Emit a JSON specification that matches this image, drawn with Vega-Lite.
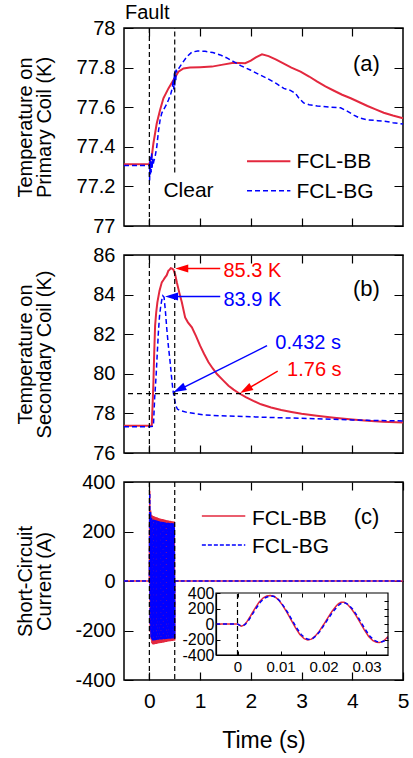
{
"$schema":"https://vega.github.io/schema/vega-lite/v6.json",
"padding":{"left":14,"top":2,"right":4,"bottom":4},
"spacing":29,
"bounds":"flush",
"config":{"font":"Liberation Sans","view":{"stroke":"#000","strokeWidth":1.5},
"axis":{"labelFont":"Liberation Sans","titleFont":"Liberation Sans","labelColor":"#000","titleColor":"#000","titleFontWeight":"normal","labelFlush":false,"labelOverlap":false,"labelBound":false,"domain":false,"ticks":false,"grid":true,"gridColor":"#000","gridOpacity":1,"gridWidth":1.2},
"text":{"font":"Liberation Sans"}},
"datasets":{
"a":[
{"t":-0.5,"v":77.312,"s":"BB"},{"t":-0.25,"v":77.312,"s":"BB"},{"t":0,"v":77.313,"s":"BB"},{"t":0.02,"v":77.335,"s":"BB"},{"t":0.047,"v":77.35,"s":"BB"},{"t":0.08,"v":77.418,"s":"BB"},{"t":0.146,"v":77.519,"s":"BB"},{"t":0.211,"v":77.586,"s":"BB"},{"t":0.277,"v":77.645,"s":"BB"},{"t":0.376,"v":77.695,"s":"BB"},{"t":0.475,"v":77.737,"s":"BB"},{"t":0.573,"v":77.779,"s":"BB"},{"t":0.672,"v":77.796,"s":"BB"},{"t":0.8,"v":77.8,"s":"BB"},{"t":1.0,"v":77.802,"s":"BB"},{"t":1.233,"v":77.805,"s":"BB"},{"t":1.45,"v":77.815,"s":"BB"},{"t":1.66,"v":77.825,"s":"BB"},{"t":1.89,"v":77.822,"s":"BB"},{"t":2.0,"v":77.835,"s":"BB"},{"t":2.1,"v":77.852,"s":"BB"},{"t":2.22,"v":77.867,"s":"BB"},{"t":2.35,"v":77.858,"s":"BB"},{"t":2.5,"v":77.84,"s":"BB"},{"t":2.65,"v":77.82,"s":"BB"},{"t":2.8,"v":77.8,"s":"BB"},{"t":2.98,"v":77.78,"s":"BB"},{"t":3.15,"v":77.755,"s":"BB"},{"t":3.31,"v":77.729,"s":"BB"},{"t":3.47,"v":77.705,"s":"BB"},{"t":3.64,"v":77.683,"s":"BB"},{"t":3.8,"v":77.663,"s":"BB"},{"t":3.97,"v":77.645,"s":"BB"},{"t":4.14,"v":77.625,"s":"BB"},{"t":4.3,"v":77.606,"s":"BB"},{"t":4.46,"v":77.589,"s":"BB"},{"t":4.62,"v":77.572,"s":"BB"},{"t":4.8,"v":77.558,"s":"BB"},{"t":5.0,"v":77.544,"s":"BB"},
{"t":-0.5,"v":77.305,"s":"BG"},{"t":-0.25,"v":77.305,"s":"BG"},{"t":0,"v":77.305,"s":"BG"},{"t":0.005,"v":77.23,"s":"BG"},{"t":0.012,"v":77.33,"s":"BG"},{"t":0.02,"v":77.26,"s":"BG"},{"t":0.028,"v":77.35,"s":"BG"},{"t":0.036,"v":77.27,"s":"BG"},{"t":0.045,"v":77.37,"s":"BG"},{"t":0.054,"v":77.29,"s":"BG"},{"t":0.063,"v":77.34,"s":"BG"},{"t":0.075,"v":77.31,"s":"BG"},{"t":0.09,"v":77.33,"s":"BG"},{"t":0.11,"v":77.345,"s":"BG"},{"t":0.146,"v":77.4,"s":"BG"},{"t":0.18,"v":77.48,"s":"BG"},{"t":0.211,"v":77.535,"s":"BG"},{"t":0.245,"v":77.57,"s":"BG"},{"t":0.277,"v":77.586,"s":"BG"},{"t":0.33,"v":77.61,"s":"BG"},{"t":0.376,"v":77.636,"s":"BG"},{"t":0.42,"v":77.665,"s":"BG"},{"t":0.455,"v":77.7,"s":"BG"},{"t":0.47,"v":77.74,"s":"BG"},{"t":0.48,"v":77.69,"s":"BG"},{"t":0.49,"v":77.77,"s":"BG"},{"t":0.5,"v":77.71,"s":"BG"},{"t":0.51,"v":77.785,"s":"BG"},{"t":0.52,"v":77.73,"s":"BG"},{"t":0.53,"v":77.79,"s":"BG"},{"t":0.541,"v":77.78,"s":"BG"},{"t":0.59,"v":77.8,"s":"BG"},{"t":0.64,"v":77.82,"s":"BG"},{"t":0.74,"v":77.855,"s":"BG"},{"t":0.838,"v":77.878,"s":"BG"},{"t":0.95,"v":77.884,"s":"BG"},{"t":1.1,"v":77.882,"s":"BG"},{"t":1.25,"v":77.876,"s":"BG"},{"t":1.397,"v":77.864,"s":"BG"},{"t":1.52,"v":77.85,"s":"BG"},{"t":1.66,"v":77.83,"s":"BG"},{"t":1.8,"v":77.81,"s":"BG"},{"t":1.99,"v":77.788,"s":"BG"},{"t":2.15,"v":77.767,"s":"BG"},{"t":2.32,"v":77.746,"s":"BG"},{"t":2.5,"v":77.72,"s":"BG"},{"t":2.65,"v":77.695,"s":"BG"},{"t":2.78,"v":77.685,"s":"BG"},{"t":2.88,"v":77.67,"s":"BG"},{"t":2.95,"v":77.645,"s":"BG"},{"t":3.04,"v":77.622,"s":"BG"},{"t":3.15,"v":77.612,"s":"BG"},{"t":3.31,"v":77.606,"s":"BG"},{"t":3.57,"v":77.6,"s":"BG"},{"t":3.77,"v":77.597,"s":"BG"},{"t":3.9,"v":77.58,"s":"BG"},{"t":4.03,"v":77.56,"s":"BG"},{"t":4.15,"v":77.545,"s":"BG"},{"t":4.3,"v":77.536,"s":"BG"},{"t":4.5,"v":77.532,"s":"BG"},{"t":4.62,"v":77.53,"s":"BG"},{"t":4.8,"v":77.522,"s":"BG"},{"t":5.0,"v":77.515,"s":"BG"}
],
"b":[
{"t":-0.5,"v":77.38,"s":"BB"},{"t":0,"v":77.38,"s":"BB"},{"t":0.047,"v":77.38,"s":"BB"},{"t":0.065,"v":78.5,"s":"BB"},{"t":0.08,"v":79.57,"s":"BB"},{"t":0.095,"v":81.0,"s":"BB"},{"t":0.113,"v":82.43,"s":"BB"},{"t":0.135,"v":83.1,"s":"BB"},{"t":0.158,"v":83.61,"s":"BB"},{"t":0.2,"v":84.2,"s":"BB"},{"t":0.245,"v":84.62,"s":"BB"},{"t":0.28,"v":84.75,"s":"BB"},{"t":0.31,"v":84.87,"s":"BB"},{"t":0.34,"v":84.97,"s":"BB"},{"t":0.376,"v":85.21,"s":"BB"},{"t":0.4,"v":85.26,"s":"BB"},{"t":0.423,"v":85.33,"s":"BB"},{"t":0.45,"v":85.31,"s":"BB"},{"t":0.475,"v":85.26,"s":"BB"},{"t":0.51,"v":85.0,"s":"BB"},{"t":0.541,"v":84.62,"s":"BB"},{"t":0.59,"v":84.1,"s":"BB"},{"t":0.64,"v":83.61,"s":"BB"},{"t":0.705,"v":82.85,"s":"BB"},{"t":0.76,"v":82.6,"s":"BB"},{"t":0.838,"v":82.35,"s":"BB"},{"t":0.92,"v":81.9,"s":"BB"},{"t":1.0,"v":81.42,"s":"BB"},{"t":1.08,"v":81.0,"s":"BB"},{"t":1.166,"v":80.58,"s":"BB"},{"t":1.25,"v":80.27,"s":"BB"},{"t":1.332,"v":79.99,"s":"BB"},{"t":1.45,"v":79.68,"s":"BB"},{"t":1.56,"v":79.4,"s":"BB"},{"t":1.66,"v":79.2,"s":"BB"},{"t":1.76,"v":79.03,"s":"BB"},{"t":1.9,"v":78.82,"s":"BB"},{"t":2.05,"v":78.63,"s":"BB"},{"t":2.2,"v":78.46,"s":"BB"},{"t":2.4,"v":78.3,"s":"BB"},{"t":2.6,"v":78.17,"s":"BB"},{"t":2.8,"v":78.07,"s":"BB"},{"t":3.0,"v":77.98,"s":"BB"},{"t":3.3,"v":77.88,"s":"BB"},{"t":3.64,"v":77.78,"s":"BB"},{"t":4.0,"v":77.69,"s":"BB"},{"t":4.3,"v":77.63,"s":"BB"},{"t":4.6,"v":77.58,"s":"BB"},{"t":5.0,"v":77.54,"s":"BB"},
{"t":-0.5,"v":77.33,"s":"BG"},{"t":0,"v":77.33,"s":"BG"},{"t":0.08,"v":77.36,"s":"BG"},{"t":0.105,"v":78.8,"s":"BG"},{"t":0.133,"v":79.9,"s":"BG"},{"t":0.155,"v":81.0,"s":"BG"},{"t":0.178,"v":82.1,"s":"BG"},{"t":0.2,"v":82.9,"s":"BG"},{"t":0.225,"v":83.44,"s":"BG"},{"t":0.25,"v":83.8,"s":"BG"},{"t":0.265,"v":83.94,"s":"BG"},{"t":0.29,"v":83.86,"s":"BG"},{"t":0.315,"v":83.2,"s":"BG"},{"t":0.344,"v":82.26,"s":"BG"},{"t":0.375,"v":81.4,"s":"BG"},{"t":0.41,"v":80.58,"s":"BG"},{"t":0.435,"v":79.9,"s":"BG"},{"t":0.462,"v":79.23,"s":"BG"},{"t":0.485,"v":78.85,"s":"BG"},{"t":0.508,"v":78.56,"s":"BG"},{"t":0.53,"v":78.35,"s":"BG"},{"t":0.553,"v":78.22,"s":"BG"},{"t":0.6,"v":78.15,"s":"BG"},{"t":0.74,"v":78.05,"s":"BG"},{"t":1.07,"v":77.93,"s":"BG"},{"t":1.4,"v":77.88,"s":"BG"},{"t":2.0,"v":77.83,"s":"BG"},{"t":2.32,"v":77.8,"s":"BG"},{"t":3.0,"v":77.75,"s":"BG"},{"t":3.64,"v":77.7,"s":"BG"},{"t":4.0,"v":77.67,"s":"BG"},{"t":4.3,"v":77.65,"s":"BG"},{"t":5.0,"v":77.62,"s":"BG"}
],
"c":[
{"t":-0.5,"v":0,"s":"BB"},{"t":0,"v":0,"s":"BB"},
{"t":0.0078,"v":365,"s":"BB"},{"t":0.0163,"v":-206,"s":"BB"},{"t":0.0245,"v":285,"s":"BB"},{"t":0.033,"v":-236,"s":"BB"},{"t":0.0411,"v":268,"s":"BB"},{"t":0.0496,"v":-252,"s":"BB"},{"t":0.0578,"v":265,"s":"BB"},{"t":0.0663,"v":-256,"s":"BB"},{"t":0.0745,"v":263,"s":"BB"},{"t":0.083,"v":-257,"s":"BB"},{"t":0.0911,"v":262,"s":"BB"},{"t":0.0996,"v":-256,"s":"BB"},{"t":0.1078,"v":260,"s":"BB"},{"t":0.1163,"v":-255,"s":"BB"},{"t":0.1245,"v":259,"s":"BB"},{"t":0.133,"v":-255,"s":"BB"},{"t":0.1411,"v":258,"s":"BB"},{"t":0.1496,"v":-254,"s":"BB"},{"t":0.1578,"v":257,"s":"BB"},{"t":0.1663,"v":-253,"s":"BB"},{"t":0.1745,"v":255,"s":"BB"},{"t":0.183,"v":-252,"s":"BB"},{"t":0.1911,"v":254,"s":"BB"},{"t":0.1996,"v":-252,"s":"BB"},{"t":0.2078,"v":253,"s":"BB"},{"t":0.2163,"v":-251,"s":"BB"},{"t":0.2245,"v":252,"s":"BB"},{"t":0.233,"v":-250,"s":"BB"},{"t":0.2411,"v":251,"s":"BB"},{"t":0.2496,"v":-249,"s":"BB"},{"t":0.2578,"v":250,"s":"BB"},{"t":0.2663,"v":-249,"s":"BB"},{"t":0.2745,"v":249,"s":"BB"},{"t":0.283,"v":-248,"s":"BB"},{"t":0.2911,"v":248,"s":"BB"},{"t":0.2996,"v":-247,"s":"BB"},{"t":0.3078,"v":247,"s":"BB"},{"t":0.3163,"v":-246,"s":"BB"},{"t":0.3245,"v":246,"s":"BB"},{"t":0.333,"v":-246,"s":"BB"},{"t":0.3411,"v":245,"s":"BB"},{"t":0.3496,"v":-245,"s":"BB"},{"t":0.3578,"v":245,"s":"BB"},{"t":0.3663,"v":-244,"s":"BB"},{"t":0.3745,"v":244,"s":"BB"},{"t":0.383,"v":-244,"s":"BB"},{"t":0.3911,"v":243,"s":"BB"},{"t":0.3996,"v":-243,"s":"BB"},{"t":0.4078,"v":243,"s":"BB"},{"t":0.4163,"v":-243,"s":"BB"},{"t":0.4245,"v":242,"s":"BB"},{"t":0.433,"v":-242,"s":"BB"},{"t":0.4411,"v":241,"s":"BB"},{"t":0.4496,"v":-242,"s":"BB"},{"t":0.4578,"v":241,"s":"BB"},{"t":0.4663,"v":-241,"s":"BB"},{"t":0.4745,"v":240,"s":"BB"},{"t":0.483,"v":-241,"s":"BB"},{"t":0.4911,"v":240,"s":"BB"},{"t":0.4996,"v":-240,"s":"BB"},
{"t":0.5005,"v":0,"s":"BB"},{"t":5,"v":0,"s":"BB"},
{"t":-0.5,"v":0,"s":"BG"},{"t":0,"v":0,"s":"BG"},
{"t":0.0078,"v":355,"s":"BG"},{"t":0.0163,"v":-202,"s":"BG"},{"t":0.0245,"v":278,"s":"BG"},{"t":0.033,"v":-228,"s":"BG"},{"t":0.0411,"v":255,"s":"BG"},{"t":0.0496,"v":-238,"s":"BG"},{"t":0.0578,"v":250,"s":"BG"},{"t":0.0663,"v":-240,"s":"BG"},{"t":0.0745,"v":248,"s":"BG"},{"t":0.083,"v":-240,"s":"BG"},{"t":0.0911,"v":247,"s":"BG"},{"t":0.0996,"v":-239,"s":"BG"},{"t":0.1078,"v":246,"s":"BG"},{"t":0.1163,"v":-239,"s":"BG"},{"t":0.1245,"v":245,"s":"BG"},{"t":0.133,"v":-238,"s":"BG"},{"t":0.1411,"v":244,"s":"BG"},{"t":0.1496,"v":-238,"s":"BG"},{"t":0.1578,"v":243,"s":"BG"},{"t":0.1663,"v":-238,"s":"BG"},{"t":0.1745,"v":242,"s":"BG"},{"t":0.183,"v":-237,"s":"BG"},{"t":0.1911,"v":241,"s":"BG"},{"t":0.1996,"v":-237,"s":"BG"},{"t":0.2078,"v":240,"s":"BG"},{"t":0.2163,"v":-236,"s":"BG"},{"t":0.2245,"v":240,"s":"BG"},{"t":0.233,"v":-236,"s":"BG"},{"t":0.2411,"v":239,"s":"BG"},{"t":0.2496,"v":-236,"s":"BG"},{"t":0.2578,"v":238,"s":"BG"},{"t":0.2663,"v":-235,"s":"BG"},{"t":0.2745,"v":238,"s":"BG"},{"t":0.283,"v":-235,"s":"BG"},{"t":0.2911,"v":237,"s":"BG"},{"t":0.2996,"v":-235,"s":"BG"},{"t":0.3078,"v":237,"s":"BG"},{"t":0.3163,"v":-234,"s":"BG"},{"t":0.3245,"v":236,"s":"BG"},{"t":0.333,"v":-234,"s":"BG"},{"t":0.3411,"v":236,"s":"BG"},{"t":0.3496,"v":-234,"s":"BG"},{"t":0.3578,"v":235,"s":"BG"},{"t":0.3663,"v":-233,"s":"BG"},{"t":0.3745,"v":235,"s":"BG"},{"t":0.383,"v":-233,"s":"BG"},{"t":0.3911,"v":235,"s":"BG"},{"t":0.3996,"v":-233,"s":"BG"},{"t":0.4078,"v":234,"s":"BG"},{"t":0.4163,"v":-233,"s":"BG"},{"t":0.4245,"v":234,"s":"BG"},{"t":0.433,"v":-232,"s":"BG"},{"t":0.4411,"v":234,"s":"BG"},{"t":0.4496,"v":-232,"s":"BG"},{"t":0.4578,"v":233,"s":"BG"},{"t":0.4663,"v":-232,"s":"BG"},{"t":0.4745,"v":233,"s":"BG"},{"t":0.483,"v":-232,"s":"BG"},{"t":0.4911,"v":233,"s":"BG"},{"t":0.4996,"v":-231,"s":"BG"},
{"t":0.5005,"v":0,"s":"BG"},{"t":5,"v":0,"s":"BG"}
],
"ci":[
{"t":-0.005,"v":0,"s":"BB"},{"t":0,"v":0,"s":"BB"},{"t":0.0004,"v":-15,"s":"BB"},{"t":0.0009,"v":-28,"s":"BB"},{"t":0.0015,"v":-15,"s":"BB"},{"t":0.0022,"v":30,"s":"BB"},{"t":0.003,"v":100,"s":"BB"},{"t":0.004,"v":195,"s":"BB"},{"t":0.005,"v":280,"s":"BB"},{"t":0.006,"v":338,"s":"BB"},{"t":0.0068,"v":362,"s":"BB"},{"t":0.0076,"v":368,"s":"BB"},{"t":0.0085,"v":358,"s":"BB"},{"t":0.0095,"v":315,"s":"BB"},{"t":0.0105,"v":240,"s":"BB"},{"t":0.0115,"v":150,"s":"BB"},{"t":0.0125,"v":50,"s":"BB"},{"t":0.0135,"v":-50,"s":"BB"},{"t":0.0145,"v":-135,"s":"BB"},{"t":0.0155,"v":-190,"s":"BB"},{"t":0.0163,"v":-206,"s":"BB"},{"t":0.0172,"v":-195,"s":"BB"},{"t":0.018,"v":-160,"s":"BB"},{"t":0.019,"v":-95,"s":"BB"},{"t":0.02,"v":-10,"s":"BB"},{"t":0.021,"v":80,"s":"BB"},{"t":0.022,"v":165,"s":"BB"},{"t":0.023,"v":235,"s":"BB"},{"t":0.0235,"v":262,"s":"BB"},{"t":0.0241,"v":280,"s":"BB"},{"t":0.0248,"v":280,"s":"BB"},{"t":0.0255,"v":257,"s":"BB"},{"t":0.0265,"v":197,"s":"BB"},{"t":0.0275,"v":115,"s":"BB"},{"t":0.0285,"v":20,"s":"BB"},{"t":0.0295,"v":-75,"s":"BB"},{"t":0.0305,"v":-160,"s":"BB"},{"t":0.0315,"v":-215,"s":"BB"},{"t":0.0323,"v":-236,"s":"BB"},{"t":0.033,"v":-240,"s":"BB"},{"t":0.0338,"v":-225,"s":"BB"},{"t":0.0345,"v":-190,"s":"BB"},{"t":0.035,"v":-160,"s":"BB"},
{"t":-0.005,"v":0,"s":"BG"},{"t":0,"v":0,"s":"BG"},{"t":0.0007,"v":-20,"s":"BG"},{"t":0.0012,"v":-25,"s":"BG"},{"t":0.0018,"v":-5,"s":"BG"},{"t":0.0025,"v":40,"s":"BG"},{"t":0.0033,"v":110,"s":"BG"},{"t":0.0043,"v":200,"s":"BG"},{"t":0.0053,"v":280,"s":"BG"},{"t":0.0063,"v":335,"s":"BG"},{"t":0.0073,"v":358,"s":"BG"},{"t":0.0081,"v":360,"s":"BG"},{"t":0.0088,"v":348,"s":"BG"},{"t":0.0098,"v":300,"s":"BG"},{"t":0.0108,"v":225,"s":"BG"},{"t":0.0118,"v":138,"s":"BG"},{"t":0.0128,"v":40,"s":"BG"},{"t":0.0138,"v":-55,"s":"BG"},{"t":0.0148,"v":-135,"s":"BG"},{"t":0.0158,"v":-185,"s":"BG"},{"t":0.0166,"v":-200,"s":"BG"},{"t":0.0175,"v":-188,"s":"BG"},{"t":0.0183,"v":-150,"s":"BG"},{"t":0.0193,"v":-85,"s":"BG"},{"t":0.0203,"v":0,"s":"BG"},{"t":0.0213,"v":85,"s":"BG"},{"t":0.0223,"v":165,"s":"BG"},{"t":0.0233,"v":230,"s":"BG"},{"t":0.0238,"v":255,"s":"BG"},{"t":0.0244,"v":272,"s":"BG"},{"t":0.0251,"v":272,"s":"BG"},{"t":0.0258,"v":250,"s":"BG"},{"t":0.0268,"v":190,"s":"BG"},{"t":0.0278,"v":110,"s":"BG"},{"t":0.0288,"v":15,"s":"BG"},{"t":0.0298,"v":-78,"s":"BG"},{"t":0.0308,"v":-158,"s":"BG"},{"t":0.0318,"v":-210,"s":"BG"},{"t":0.0326,"v":-230,"s":"BG"},{"t":0.0333,"v":-234,"s":"BG"},{"t":0.0341,"v":-220,"s":"BG"},{"t":0.0348,"v":-188,"s":"BG"},{"t":0.035,"v":-178,"s":"BG"}
]
},
"vconcat":[
{"width":279,"height":198,"resolve":{"axis":{"y":"independent"}},"layer":[
{"data":{"name":"a"},"transform":[{"filter":"datum.s=='BB'"}],"mark":{"type":"line","color":"#E3283E","strokeWidth":2},
"encoding":{"x":{"field":"t","type":"quantitative","scale":{"domain":[-0.5,5],"nice":false,"zero":false},"axis":{"orient":"bottom","values":[0,0.5,1,1.5,2,2.5,3,3.5,4,4.5],"labels":false,"labelOverlap":false,"title":null,"gridDash":{"condition":{"test":"datum.value % 1 == 0","value":[8,182,8,400]},"value":[5,188,5,400]}}},
"y":{"field":"v","type":"quantitative","scale":{"domain":[77,78],"nice":false,"zero":false},"axis":{"orient":"left","values":[77,77.2,77.4,77.6,77.8,78],"labelExpr":"'' + datum.value","labelOverlap":false,"labelFontSize":20,"labelPadding":9,"title":["Temperature on","Primary Coil (K)"],"titleFontSize":20,"titleLineHeight":19,"titleX":-89,"titleY":99,"titleAngle":270,"titleAlign":"center","titleBaseline":"bottom","gridDash":[9,261,9,400]}}}},
{"data":{"name":"a"},"transform":[{"filter":"datum.s=='BG'"}],"mark":{"type":"line","color":"#0000FF","strokeWidth":1.5,"strokeDash":[5,3]},"encoding":{"x":{"field":"t","type":"quantitative"},"y":{"field":"v","type":"quantitative","axis":{"orient":"right","values":[77.1,77.3,77.5,77.7,77.9],"labels":false,"title":null,"gridDash":[5,269,5,400]}}}},
{"data":{"values":[{}]},"mark":{"type":"rule","color":"#000","strokeWidth":1.2,"strokeDash":[5,3]},"encoding":{"x":{"datum":0}}},
{"data":{"values":[{}]},"mark":{"type":"rule","color":"#000","strokeWidth":1.2,"strokeDash":[5,3]},"encoding":{"x":{"datum":0.5},"y":{"datum":77.27,"axis":null},"y2":{"datum":78}}},
{"data":{"values":[{}]},"mark":{"type":"text","text":"Fault","align":"left","baseline":"alphabetic","fontSize":20,"color":"#000"},"encoding":{"x":{"datum":-0.48},"y":{"datum":78.045,"axis":null}}},
{"data":{"values":[{}]},"mark":{"type":"text","text":"Clear","align":"left","baseline":"alphabetic","fontSize":21,"color":"#000"},"encoding":{"x":{"datum":0.277},"y":{"datum":77.148,"axis":null}}},
{"data":{"values":[{}]},"mark":{"type":"text","text":"(a)","align":"center","baseline":"alphabetic","fontSize":22,"color":"#000"},"encoding":{"x":{"datum":4.28},"y":{"datum":77.785,"axis":null}}},
{"data":{"values":[{}]},"mark":{"type":"rule","color":"#E3283E","strokeWidth":2},"encoding":{"x":{"datum":1.925},"x2":{"datum":2.78},"y":{"datum":77.3265,"axis":null}}},
{"data":{"values":[{}]},"mark":{"type":"rule","color":"#0000FF","strokeWidth":1.5,"strokeDash":[5,3]},"encoding":{"x":{"datum":1.925},"x2":{"datum":2.78},"y":{"datum":77.178,"axis":null}}},
{"data":{"values":[{}]},"mark":{"type":"text","text":"FCL-BB","align":"left","baseline":"alphabetic","fontSize":21,"color":"#000"},"encoding":{"x":{"datum":2.9},"y":{"datum":77.291,"axis":null}}},
{"data":{"values":[{}]},"mark":{"type":"text","text":"FCL-BG","align":"left","baseline":"alphabetic","fontSize":21,"color":"#000"},"encoding":{"x":{"datum":2.9},"y":{"datum":77.14,"axis":null}}}
]},
{"width":279,"height":198,"resolve":{"axis":{"y":"independent"}},"layer":[
{"data":{"name":"b"},"transform":[{"filter":"datum.s=='BB'"}],"mark":{"type":"line","color":"#E3283E","strokeWidth":2},
"encoding":{"x":{"field":"t","type":"quantitative","scale":{"domain":[-0.5,5],"nice":false,"zero":false},"axis":{"orient":"bottom","values":[0,0.5,1,1.5,2,2.5,3,3.5,4,4.5],"labels":false,"labelOverlap":false,"title":null,"gridDash":{"condition":{"test":"datum.value % 1 == 0","value":[8,182,8,400]},"value":[5,188,5,400]}}},
"y":{"field":"v","type":"quantitative","scale":{"domain":[76,86],"nice":false,"zero":false},"axis":{"orient":"left","values":[76,78,80,82,84,86],"labelExpr":"'' + datum.value","labelOverlap":false,"labelFontSize":20,"labelPadding":9,"title":["Temperature on","Secondary Coil (K)"],"titleFontSize":20,"titleLineHeight":19,"titleX":-89,"titleY":99,"titleAngle":270,"titleAlign":"center","titleBaseline":"bottom","gridDash":[9,261,9,400]}}}},
{"data":{"name":"b"},"transform":[{"filter":"datum.s=='BG'"}],"mark":{"type":"line","color":"#0000FF","strokeWidth":1.5,"strokeDash":[5,3]},"encoding":{"x":{"field":"t","type":"quantitative"},"y":{"field":"v","type":"quantitative","axis":{"orient":"right","values":[77,79,81,83,85],"labels":false,"title":null,"gridDash":[5,269,5,400]}}}},
{"data":{"values":[{}]},"mark":{"type":"rule","color":"#000","strokeWidth":1.2,"strokeDash":[5,3]},"encoding":{"x":{"datum":0}}},
{"data":{"values":[{}]},"mark":{"type":"rule","color":"#000","strokeWidth":1.2,"strokeDash":[5,3]},"encoding":{"x":{"datum":0.5}}},
{"data":{"values":[{}]},"mark":{"type":"rule","color":"#000","strokeWidth":1.2,"strokeDash":[5,4]},"encoding":{"y":{"datum":79,"axis":null}}},
{"data":{"values":[{}]},"mark":{"type":"text","text":"(b)","align":"center","baseline":"alphabetic","fontSize":22,"color":"#000"},"encoding":{"x":{"datum":4.28},"y":{"datum":83.93,"axis":null}}},
{"data":{"values":[{}]},"mark":{"type":"rule","color":"#FF0000","strokeWidth":1.5},"encoding":{"x":{"datum":0.6},"x2":{"datum":1.397},"y":{"datum":85.32,"axis":null}}},
{"data":{"values":[{}]},"mark":{"type":"point","shape":"M0,0L2,-0.62L2,0.62Z","size":169,"filled":true,"opacity":1,"color":"#FF0000"},"encoding":{"x":{"datum":0.51},"y":{"datum":85.32,"axis":null}}},
{"data":{"values":[{}]},"mark":{"type":"rule","color":"#0000FF","strokeWidth":1.5},"encoding":{"x":{"datum":0.4},"x2":{"datum":1.397},"y":{"datum":83.9,"axis":null}}},
{"data":{"values":[{}]},"mark":{"type":"point","shape":"M0,0L2,-0.62L2,0.62Z","size":169,"filled":true,"opacity":1,"color":"#0000FF"},"encoding":{"x":{"datum":0.31},"y":{"datum":83.9,"axis":null}}},
{"data":{"values":[{}]},"mark":{"type":"rule","color":"#0000FF","strokeWidth":1.5},"encoding":{"x":{"datum":2.32},"x2":{"datum":0.55},"y":{"datum":81.42,"axis":null},"y2":{"datum":79.15}}},
{"data":{"values":[{}]},"mark":{"type":"point","shape":"M0,0L2,-0.62L2,0.62Z","size":169,"filled":true,"opacity":1,"color":"#0000FF","angle":333.5},"encoding":{"x":{"datum":0.475},"y":{"datum":79.07,"axis":null}}},
{"data":{"values":[{}]},"mark":{"type":"rule","color":"#FF0000","strokeWidth":1.5},"encoding":{"x":{"datum":2.53},"x2":{"datum":1.86},"y":{"datum":80.13,"axis":null},"y2":{"datum":79.13}}},
{"data":{"values":[{}]},"mark":{"type":"point","shape":"M0,0L2,-0.62L2,0.62Z","size":169,"filled":true,"opacity":1,"color":"#FF0000","angle":329.8},"encoding":{"x":{"datum":1.79},"y":{"datum":79.03,"axis":null}}},
{"data":{"values":[{}]},"mark":{"type":"text","text":"85.3 K","align":"left","baseline":"alphabetic","fontSize":20,"color":"#FF0000"},"encoding":{"x":{"datum":1.46},"y":{"datum":84.87,"axis":null}}},
{"data":{"values":[{}]},"mark":{"type":"text","text":"83.9 K","align":"left","baseline":"alphabetic","fontSize":20,"color":"#0000FF"},"encoding":{"x":{"datum":1.46},"y":{"datum":83.44,"axis":null}}},
{"data":{"values":[{}]},"mark":{"type":"text","text":"0.432 s","align":"left","baseline":"alphabetic","fontSize":20,"color":"#0000FF"},"encoding":{"x":{"datum":2.484},"y":{"datum":81.25,"axis":null}}},
{"data":{"values":[{}]},"mark":{"type":"text","text":"1.76 s","align":"left","baseline":"alphabetic","fontSize":20,"color":"#FF0000"},"encoding":{"x":{"datum":2.715},"y":{"datum":79.87,"axis":null}}}
]},
{"width":279,"height":198,
"resolve":{"scale":{"x":"independent","y":"independent"},"axis":{"x":"independent","y":"independent"}},
"layer":[
{"layer":[
{"data":{"name":"c"},"transform":[{"filter":"datum.s=='BB'"}],"mark":{"type":"line","color":"#E3283E","strokeWidth":1.5},
"encoding":{"x":{"field":"t","type":"quantitative","scale":{"domain":[-0.5,5],"nice":false,"zero":false},"axis":{"orient":"bottom","values":[0,0.5,1,1.5,2,2.5,3,3.5,4,4.5,5],"labelExpr":"datum.value % 1 == 0 ? '' + datum.value : ''","labelOverlap":false,"labelFontSize":21,"labelPadding":10,"title":"Time (s)","titleFontSize":23,"titlePadding":18,"gridDash":{"condition":{"test":"datum.value % 1 == 0","value":[8,182,8,400]},"value":[5,188,5,400]}}},
"y":{"field":"v","type":"quantitative","scale":{"domain":[-400,400],"nice":false,"zero":false},"axis":{"orient":"left","values":[-400,-300,-200,-100,0,100,200,300,400],"labelExpr":"datum.value % 200 == 0 ? '' + datum.value : ''","labelOverlap":false,"labelFontSize":20,"labelPadding":9,"title":["Short-Circuit","Current (A)"],"titleFontSize":20,"titleLineHeight":19,"titleX":-89,"titleY":99,"titleAngle":270,"titleAlign":"center","titleBaseline":"bottom","gridDash":{"condition":{"test":"datum.value % 200 == 0","value":[9,261,9,400]},"value":[5,269,5,400]}}}}},
{"data":{"name":"c"},"transform":[{"filter":"datum.s=='BG'"}],"mark":{"type":"line","color":"#0000FF","strokeWidth":1.5,"strokeDash":[4,2]},"encoding":{"x":{"field":"t","type":"quantitative"},"y":{"field":"v","type":"quantitative"}}},
{"data":{"values":[{}]},"mark":{"type":"rule","color":"#000","strokeWidth":1.2,"strokeDash":[5,3]},"encoding":{"x":{"datum":0}}},
{"data":{"values":[{}]},"mark":{"type":"rule","color":"#000","strokeWidth":1.2,"strokeDash":[5,3]},"encoding":{"x":{"datum":0.5}}},
{"data":{"values":[{}]},"mark":{"type":"text","text":"(c)","align":"center","baseline":"alphabetic","fontSize":22,"color":"#000"},"encoding":{"x":{"datum":4.28},"y":{"datum":230}}},
{"data":{"values":[{}]},"mark":{"type":"rule","color":"#E3283E","strokeWidth":1.5},"encoding":{"x":{"datum":1.035},"x2":{"datum":1.891},"y":{"datum":262.6}}},
{"data":{"values":[{}]},"mark":{"type":"rule","color":"#0000FF","strokeWidth":1.5,"strokeDash":[4,2]},"encoding":{"x":{"datum":1.035},"x2":{"datum":1.891},"y":{"datum":145.5}}},
{"data":{"values":[{}]},"mark":{"type":"text","text":"FCL-BB","align":"left","baseline":"alphabetic","fontSize":21,"color":"#000"},"encoding":{"x":{"datum":2.024},"y":{"datum":226.3}}},
{"data":{"values":[{}]},"mark":{"type":"text","text":"FCL-BG","align":"left","baseline":"alphabetic","fontSize":21,"color":"#000"},"encoding":{"x":{"datum":2.024},"y":{"datum":112}}}
]},
{"resolve":{"axis":{"x":"independent","y":"independent"}},"layer":[
{"data":{"name":"ci"},"transform":[{"filter":"datum.s=='BB'"}],"mark":{"type":"line","color":"#E3283E","strokeWidth":1.5},
"encoding":{"x":{"field":"t","type":"quantitative","scale":{"domain":[-0.005,0.035],"range":[92,264],"nice":false,"zero":false},"axis":{"orient":"bottom","offset":-25,"values":[0,0.01,0.02,0.03],"labelExpr":"'' + datum.value","labelOverlap":false,"grid":false,"domain":true,"domainColor":"#000","domainWidth":1.2,"ticks":true,"tickSize":-4,"tickColor":"#000","tickWidth":1,"labelFontSize":15,"labelPadding":8,"title":null}},
"y":{"field":"v","type":"quantitative","scale":{"domain":[-400,400],"range":[173,111],"nice":false,"zero":false},"axis":{"orient":"left","offset":-92,"values":[-400,-200,0,200,400],"labelExpr":"'' + datum.value","labelOverlap":false,"grid":false,"domain":true,"domainColor":"#000","domainWidth":1.2,"ticks":true,"tickSize":-4,"tickColor":"#000","tickWidth":1,"labelFontSize":16,"labelPadding":6,"title":null}}}},
{"data":{"name":"ci"},"transform":[{"filter":"datum.s=='BG'"}],"mark":{"type":"line","color":"#0000FF","strokeWidth":1.5,"strokeDash":[4,3]},"encoding":{"x":{"field":"t","type":"quantitative","axis":{"orient":"top","offset":-111,"values":[0,0.005,0.01,0.015,0.02,0.025,0.03],"labels":false,"grid":false,"domain":false,"ticks":true,"tickSize":-4,"tickColor":"#000","tickWidth":1,"title":null}},"y":{"field":"v","type":"quantitative","axis":{"orient":"right","offset":-15,"values":[-300,-200,-100,0,100,200,300],"labels":false,"grid":false,"domain":false,"ticks":true,"tickSize":-4,"tickColor":"#000","tickWidth":1,"title":null}}}},
{"data":{"values":[{}]},"mark":{"type":"rule","color":"#000","strokeWidth":1.2,"strokeDash":[5,3]},"encoding":{"x":{"datum":0,"axis":null},"y":{"datum":-400,"axis":null},"y2":{"datum":400}}},
{"data":{"values":[{}]},"mark":{"type":"rect","fill":null,"fillOpacity":0,"stroke":"#000","strokeWidth":1.2},"encoding":{"x":{"datum":-0.005,"axis":null},"x2":{"datum":0.035},"y":{"datum":-400,"axis":null},"y2":{"datum":400}}}
]}
]}
]
}
